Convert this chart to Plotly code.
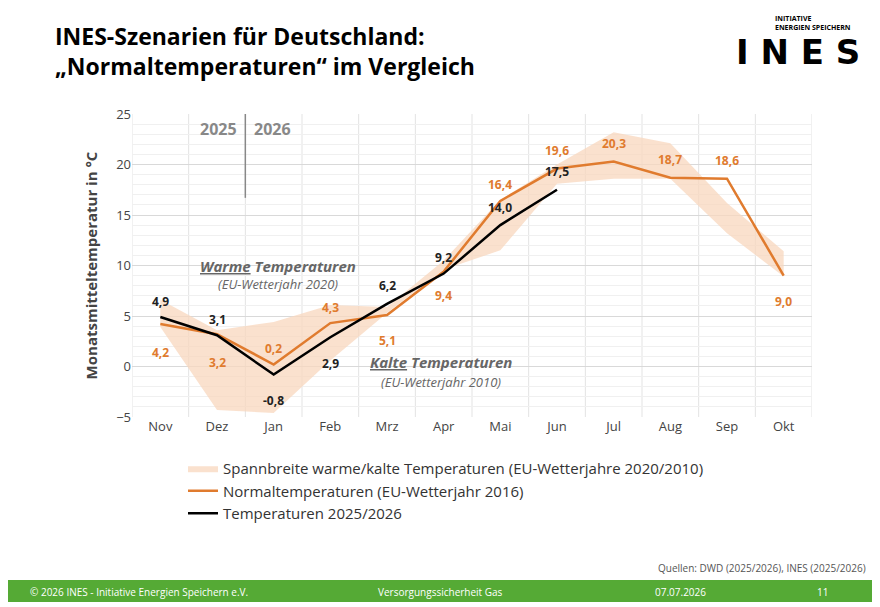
import plotly.graph_objects as go

months = ["Nov","Dez","Jan","Feb","Mrz","Apr","Mai","Jun","Jul","Aug","Sep","Okt"]
band_upper = [6.6, 3.6, 4.4, 6.1, 5.9, 10.5, 16.5, 20.0, 23.2, 22.1, 16.2, 11.4]
band_lower = [3.9, -4.3, -4.6, 0.6, 5.3, 9.6, 11.5, 18.1, 18.6, 18.6, 13.2, 8.9]
normal = [4.2, 3.2, 0.2, 4.3, 5.1, 9.4, 16.4, 19.6, 20.3, 18.7, 18.6, 9.0]
actual = [4.9, 3.1, -0.8, 2.9, 6.2, 9.2, 14.0, 17.5]

ORANGE = "#E07B2E"
BAND = "rgba(248,215,190,0.75)"
x = list(range(len(months)))

# page pixel helpers (plot area spans x 132..812, y 114..417 on the page)
def px(p):
    return (p - 132) / 680
def py(p):
    return (417 - p) / 303

fig = go.Figure()
fig.add_trace(go.Scatter(x=x, y=band_upper, mode="lines", line=dict(width=0), showlegend=False, hoverinfo="skip"))
fig.add_trace(go.Scatter(x=x, y=band_lower, mode="lines", line=dict(width=0), fill="tonexty", fillcolor=BAND,
                         name="Spannbreite warme/kalte Temperaturen (EU-Wetterjahre 2020/2010)"))
fig.add_trace(go.Scatter(x=x, y=normal, mode="lines", line=dict(color=ORANGE, width=2.5),
                         name="Normaltemperaturen (EU-Wetterjahr 2016)"))
fig.add_trace(go.Scatter(x=x[:len(actual)], y=actual, mode="lines", line=dict(color="black", width=2.5),
                         name="Temperaturen 2025/2026"))

def fmt(v):
    return f"{v:.1f}".replace(".", ",")

n_off = [-28, -28, 16, 16, -26, -24, 16, 18, 18, 18, 18, -26]
a_off = [16, 16, -26, -26, 18, 16, 18, 18]
ann = []
for i, v in enumerate(normal):
    ann.append(dict(x=i, y=v, text=f"<b>{fmt(v)}</b>", showarrow=False, yshift=n_off[i],
                    font=dict(color=ORANGE, size=12, family="Open Sans")))
for i, v in enumerate(actual):
    ann.append(dict(x=i, y=v, text=f"<b>{fmt(v)}</b>", showarrow=False, yshift=a_off[i],
                    font=dict(color="#222", size=12, family="Open Sans")))
ann += [
    dict(x=1.03, y=23.5, text="<b>2025</b>", showarrow=False, font=dict(size=16, color="#888")),
    dict(x=1.98, y=23.5, text="<b>2026</b>", showarrow=False, font=dict(size=16, color="#888")),
    dict(x=2.08, y=10, text="<b><i><u>Warme</u> Temperaturen</i></b>", showarrow=False, font=dict(size=15, color="#666")),
    dict(x=2.08, y=8.2, text="<i>(EU-Wetterjahr 2020)</i>", showarrow=False, font=dict(size=13, color="#666")),
    dict(x=4.95, y=0.45, text="<b><i><u>Kalte</u> Temperaturen</i></b>", showarrow=False, font=dict(size=15, color="#666")),
    dict(x=4.95, y=-1.5, text="<i>(EU-Wetterjahr 2010)</i>", showarrow=False, font=dict(size=13, color="#666")),
    dict(xref="paper", yref="paper", x=px(53), y=py(18), xanchor="left", yanchor="top", align="left",
         text="<b>INES-Szenarien für Deutschland:<br>„Normaltemperaturen“ im Vergleich</b>", showarrow=False,
         font=dict(size=23, color="black", family="Open Sans")),
    dict(xref="paper", yref="paper", x=px(773), y=py(12), xanchor="left", yanchor="top", align="left",
         text="<b>INITIATIVE<br>ENERGIEN SPEICHERN</b>", showarrow=False, font=dict(size=7, color="black")),
    dict(xref="paper", yref="paper", x=px(862), y=py(30), xanchor="right", yanchor="top",
         text="<b>I N E S</b>", showarrow=False, font=dict(size=34, color="black", family="DejaVu Sans")),
    dict(xref="paper", yref="paper", x=px(868), y=py(568), xanchor="right", yanchor="middle",
         text="Quellen: DWD (2025/2026), INES (2025/2026)", showarrow=False, font=dict(size=10, color="#555")),
]
footer = [(28, "© 2026 INES - Initiative Energien Speichern e.V.", "left"), (440, "Versorgungssicherheit Gas", "center"),
          (680, "07.07.2026", "center"), (822, "11", "center")]
for fx, t, xa in footer:
    ann.append(dict(xref="paper", yref="paper", x=px(fx), y=py(592), xanchor=xa, yanchor="middle",
                    text=t, showarrow=False, font=dict(size=10, color="white")))

shapes = [
    dict(type="line", x0=1.5, x1=1.5, y0=16.7, y1=25, line=dict(color="#888", width=1.5)),
    dict(type="rect", xref="paper", yref="paper", x0=px(0), x1=px(880), y0=py(602), y1=py(580),
         fillcolor="#55AA35", line=dict(width=0), layer="below"),
]
for i in range(13):
    shapes.append(dict(type="line", x0=i - 0.5, x1=i - 0.5, y0=-5, y1=25, line=dict(color="#E3E3E3", width=1), layer="below"))

fig.update_layout(
    width=880, height=607, paper_bgcolor="white", plot_bgcolor="white",
    margin=dict(l=124, r=76, t=106, b=198),
    font=dict(family="Open Sans", color="#444"),
    annotations=ann, shapes=shapes,
    legend=dict(x=px(183), y=py(452), xanchor="left", yanchor="top", font=dict(size=15, color="#333"),
                bgcolor="rgba(0,0,0,0)", traceorder="normal", tracegroupgap=2),
    xaxis=dict(range=[-0.5, 11.5], tickvals=x, ticktext=months, showgrid=False, zeroline=False,
               tickfont=dict(size=13, color="#444"), showline=False),
    yaxis=dict(range=[-5, 25], dtick=5, gridcolor="#D9D9D9", zeroline=False, tickfont=dict(size=13, color="#444"),
               title=dict(text="<b>Monatsmitteltemperatur in °C</b>", font=dict(size=15, color="#444"), standoff=14),
               minor=dict(dtick=1, showgrid=True, gridcolor="#F0F0F0")),
)

fig.write_html("out.html")
